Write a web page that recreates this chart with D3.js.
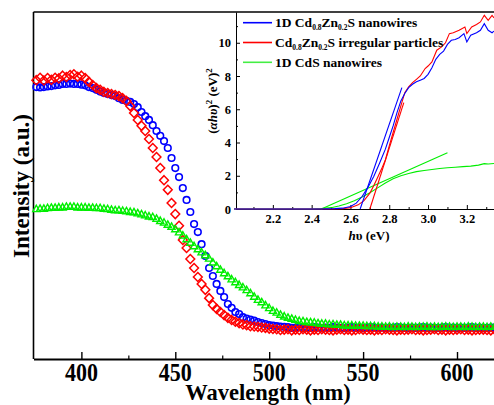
<!DOCTYPE html>
<html><head><meta charset="utf-8">
<script src="https://cdn.jsdelivr.net/npm/d3@7"></script>
<style>
html,body{margin:0;padding:0;background:#fff;}
svg{display:block;}
text{font-family:"Liberation Serif","Times New Roman",serif;font-weight:bold;fill:#000;}
</style></head><body>
<script>
// ---------- main chart data ----------
const wavelengths = d3.range(376, 621, 2); // nm
const blueNW = [78.3,78.2,78.3,78.5,78.6,78.8,78.9,79.2,79.2,79.3,79.2,79.2,79.0,78.8,78.3,78.0,77.5,77.0,76.6,76.3,
 76.0,75.7,75.1,74.6,74.3,74.0,73.4,72.5,71.1,69.9,68.8,67.3,65.6,64.2,62.7,60.7,57.8,54.9,52.3,49.1,
 45.7,42.2,38.7,36.4,32.9,29.5,26.0,23.7,21.4,19.4,17.6,15.6,14.5,13.3,12.7,11.8,11.4,11.1,10.8,10.4,
 10.1,9.8,9.5,9.4,9.2,9.1,9.0,
 8.9,8.7,8.8,8.9,8.6,8.8,8.7,8.9,8.8,8.6,8.8,8.7,8.9,8.8,8.7,8.6,8.8,8.9,8.7,8.8,
 8.6,8.7,8.9,8.8,8.7,8.8,8.6,8.8,8.7,8.9,8.8,8.7,8.6,8.8,8.7,8.8,8.9,8.7,8.8,8.6,
 8.7,8.8,8.9,8.7,8.8,8.6,8.8,8.7,8.8,8.9,8.7,8.8,8.6,8.7,8.8,8.8];
const redParticles = [80.3,81.0,80.2,80.9,80.4,81.0,80.8,81.6,81.2,81.8,82.0,81.3,81.6,80.9,79.8,78.9,78.0,77.5,76.9,76.6,
 76.3,76.0,75.7,75.1,74.3,72.8,70.8,68.8,67.1,65.6,63.3,60.7,58.1,54.9,51.4,48.6,44.8,41.6,38.2,34.1,
 31.8,28.6,26.0,23.4,21.4,19.7,17.3,15.3,14.2,13.3,12.4,11.6,11.0,10.5,10.1,9.7,9.5,9.2,9.1,9.0,
 8.8,8.7,8.5,8.4,
 8.3,8.1,8.2,8.3,8.0,8.2,8.1,8.3,8.2,8.0,8.2,8.1,8.3,8.2,8.1,8.0,8.2,8.3,8.1,8.2,
 8.0,8.1,8.3,8.2,8.1,8.2,8.0,8.2,8.1,8.3,8.2,8.1,8.0,8.2,8.1,8.2,8.3,8.1,8.2,8.0,
 8.1,8.2,8.3,8.1,8.2,8.0,8.2,8.1,8.2,8.3,8.1,8.2,8.0,8.1,8.2,8.2,8.1,8.0,8.2];
const greenCdS = [43.1,43.2,43.2,43.4,43.5,43.5,43.6,43.6,43.8,43.8,43.8,43.6,43.6,43.6,43.5,43.5,43.4,43.4,43.2,43.1,
 42.9,42.8,42.8,42.6,42.5,42.3,42.2,41.9,41.6,41.3,41.0,40.8,40.3,39.7,39.2,38.6,38.0,37.3,36.4,35.5,
 34.4,33.4,32.4,31.5,30.6,29.8,28.8,27.7,26.6,25.6,24.6,23.7,22.8,22.0,21.2,20.5,19.7,18.8,17.8,16.9,
 16.2,15.3,14.5,13.7,13.2,12.6,12.1,11.7,11.4,11.1,10.8,10.7,10.5,10.4,10.3,10.1,10.0,10.0,9.8,9.8,
 9.7,9.7,9.5,9.5,9.5,9.4,9.4,9.4,9.3,9.3,9.3,9.2,9.2,
 9.1,9.2,9.0,9.1,9.1,9.0,9.2,9.1,9.0,9.1,9.1,9.2,9.0,9.1,9.0,9.1,9.2,9.1,9.0,9.1,
 9.1,9.0,9.2,9.1,9.0,9.1,9.1,9.0,9.1,9.1];
const xTicks = [400, 450, 500, 550, 600];
const xMinor = [425, 475, 525, 575];

// ---------- inset (Tauc plot) data ----------
const insetBlue = [[2.00,0],[2.45,0],[2.52,0.02],[2.56,0.05],[2.60,0.15],[2.63,0.35],[2.66,0.75],[2.69,1.3],[2.72,1.95],[2.75,2.75],
 [2.78,3.6],[2.80,4.3],[2.82,5.0],[2.84,5.8],[2.86,6.5],[2.88,6.95],[2.90,7.3],[2.92,7.5],[2.94,7.65],[2.96,7.75],
 [2.98,7.85],[3.00,8.1],[3.02,8.5],[3.04,9.0],[3.06,9.3],[3.08,9.5],[3.10,9.9],[3.12,10.15],[3.14,10.2],[3.16,10.3],
 [3.185,10.55],[3.20,10.05],[3.22,10.45],[3.25,10.6],[3.27,10.75],[3.29,11.15],[3.31,10.75],[3.33,10.6],[3.34,10.7]];
const insetRed = [[2.00,0],[2.50,0],[2.56,0.02],[2.60,0.08],[2.64,0.25],[2.67,0.5],[2.70,0.95],[2.72,1.4],[2.74,1.9],[2.76,2.4],
 [2.78,2.95],[2.80,3.8],[2.82,4.6],[2.84,5.4],[2.86,6.2],[2.88,7.0],[2.90,7.35],[2.92,7.6],[2.94,7.8],[2.96,8.0],
 [2.985,8.45],[3.00,8.6],[3.02,8.85],[3.045,9.55],[3.07,9.75],[3.09,10.0],[3.11,10.55],[3.13,10.6],[3.16,10.75],[3.19,10.95],
 [3.20,10.55],[3.225,10.95],[3.25,11.1],[3.27,11.25],[3.29,11.65],[3.31,11.35],[3.33,11.65],[3.34,11.5]];
const insetGreen = [[2.00,0],[2.40,0],[2.45,0.02],[2.50,0.08],[2.54,0.18],[2.58,0.32],[2.62,0.5],[2.66,0.72],[2.70,0.98],[2.74,1.27],
 [2.78,1.56],[2.82,1.82],[2.86,2.0],[2.90,2.14],[2.94,2.25],[2.98,2.32],[3.02,2.38],[3.06,2.44],[3.10,2.48],[3.14,2.51],
 [3.18,2.55],[3.22,2.58],[3.26,2.64],[3.29,2.73],[3.31,2.71],[3.34,2.74]];
const fitBlue = [[2.65,0],[2.865,7.3]];
const fitRed = [[2.70,0],[2.875,6.4]];
const fitGreen = [[2.45,0],[3.10,3.38]];
const insetXTicks = [2.2, 2.4, 2.6, 2.8, 3.0, 3.2];
const insetXMinor = [2.1, 2.3, 2.5, 2.7, 2.9, 3.1, 3.3];
const insetYTicks = [0, 2, 4, 6, 8, 10];
const insetYMinor = [1, 3, 5, 7, 9, 11];
const legendLabels = ["1D Cd|0.8|Zn|0.2|S nanowires", "Cd|0.8|Zn|0.2|S irregular particles", "1D CdS nanowires"];
const colors = {blue:"#0000ff", red:"#ff0000", green:"#00ee00"};

// ---------- drawing ----------
const W = 494, H = 405;
const FONT = '"Liberation Serif","Times New Roman",serif';
const svg = d3.select("body").append("svg").attr("width", W).attr("height", H);

const x = d3.scaleLinear().domain([374.5, 619.7]).range([33.5, 494]);
const y = d3.scaleLinear().domain([0, 100]).range([358, 12]);

const main = svg.append("g");
// frame: left + top
main.append("line").attr("x1",33.5).attr("x2",33.5).attr("y1",12).attr("y2",359).attr("stroke","#000").attr("stroke-width",1.6);
main.append("line").attr("x1",33.5).attr("x2",494).attr("y1",12).attr("y2",12).attr("stroke","#000").attr("stroke-width",1.6);

// x axis (ticks inward, labels drawn from the same scale)
const gx = main.append("g").attr("transform","translate(0,359)");
gx.call(d3.axisBottom(x).tickValues(xTicks).tickSizeInner(-7).tickSizeOuter(0).tickFormat(""));
gx.select(".domain").attr("stroke-width",1.8);
gx.selectAll(".tick line").attr("stroke-width",1.4);
const gxm = main.append("g").attr("transform","translate(0,359)");
gxm.call(d3.axisBottom(x).tickValues(xMinor).tickSizeInner(-3.5).tickSizeOuter(0).tickFormat(""));
gxm.select(".domain").remove();
gxm.selectAll(".tick line").attr("stroke-width",1.2);
main.append("g").selectAll("text").data(xTicks).join("text")
  .attr("transform", d => `translate(${x(d)},381) scale(1,1.18)`)
  .attr("text-anchor","middle").style("font-size","22px").text(d => d);

main.append("text").attr("x",268).attr("y",399.5).attr("text-anchor","middle").style("font-size","22.5px").text("Wavelength (nm)");
main.append("text").attr("transform","translate(29,186) rotate(-90)").attr("text-anchor","middle").style("font-size","23px").text("Intensity (a.u.)");

// markers
const circlePts = wavelengths.map((w,i)=>[w, blueNW[i]]);
const diamondPts = wavelengths.map((w,i)=>[w, redParticles[i]]);
const triPts = wavelengths.map((w,i)=>[w, greenCdS[i]]);

const mk = main.append("g");
mk.selectAll("circle.b").data(circlePts).join("circle")
  .attr("cx",d=>x(d[0])).attr("cy",d=>y(d[1])).attr("r",3.3)
  .attr("fill","none").attr("stroke",colors.blue).attr("stroke-width",1.6);
mk.selectAll("path.r").data(diamondPts).join("path")
  .attr("transform",d=>`translate(${x(d[0])},${y(d[1])})`)
  .attr("d","M0,-4.5L4.4,0L0,4.5L-4.4,0Z")
  .attr("fill","none").attr("stroke",colors.red).attr("stroke-width",1.5);
mk.selectAll("path.g").data(triPts).join("path")
  .attr("transform",d=>`translate(${x(d[0])},${y(d[1])})`)
  .attr("d","M0,-3.6L3.6,2.8L-3.6,2.8Z")
  .attr("fill","none").attr("stroke",colors.green).attr("stroke-width",1.4);

// ---------- inset ----------
const xi = d3.scaleLinear().domain([2.01, 3.34]).range([236, 494]);
const yi = d3.scaleLinear().domain([0, 11.85]).range([209, 12]);
const ins = svg.append("g");
const line = d3.line().x(d=>xi(d[0])).y(d=>yi(d[1]));

const gxi = ins.append("g").attr("transform","translate(0,209)");
gxi.call(d3.axisBottom(xi).tickValues(insetXTicks).tickSizeInner(-4).tickSizeOuter(0).tickPadding(5).tickFormat(d3.format(".1f")));
gxi.selectAll(".tick text").style("font-size","12.5px").style("font-family",FONT).style("font-weight","bold");
const gxim = ins.append("g").attr("transform","translate(0,209)");
gxim.call(d3.axisBottom(xi).tickValues(insetXMinor).tickSizeInner(-2).tickSizeOuter(0).tickFormat(""));
gxim.select(".domain").remove();

const gyi = ins.append("g").attr("transform","translate(236,0)");
gyi.call(d3.axisLeft(yi).tickValues(insetYTicks).tickSizeInner(-4).tickSizeOuter(0).tickPadding(5));
gyi.selectAll(".tick text").style("font-size","12.5px").style("font-family",FONT).style("font-weight","bold");
const gyim = ins.append("g").attr("transform","translate(236,0)");
gyim.call(d3.axisLeft(yi).tickValues(insetYMinor).tickSizeInner(-2).tickSizeOuter(0).tickFormat(""));
gyim.select(".domain").remove();

// inset labels
const xl = ins.append("text").attr("x",369).attr("y",240).attr("text-anchor","middle").style("font-size","13px");
xl.append("tspan").style("font-style","italic").text("h");
xl.append("tspan").text("υ (eV)");
const yl = ins.append("text").attr("transform","translate(217,101) rotate(-90)").attr("text-anchor","middle").style("font-size","13px");
yl.append("tspan").text("(");
yl.append("tspan").style("font-style","italic").text("αhυ");
yl.append("tspan").text(")");
yl.append("tspan").attr("dy",-5).style("font-size","9px").text("2");
yl.append("tspan").attr("dy",5).text(" (eV)");
yl.append("tspan").attr("dy",-5).style("font-size","9px").text("2");

// inset curves
const cg = ins.append("g").attr("fill","none").attr("stroke-width",1.1);
cg.append("path").datum(insetGreen).attr("d",line).attr("stroke",colors.green);
cg.append("path").datum(fitGreen).attr("d",line).attr("stroke",colors.green);
cg.append("path").datum(insetRed).attr("d",line).attr("stroke",colors.red);
cg.append("path").datum(fitRed).attr("d",line).attr("stroke",colors.red);
cg.append("path").datum(insetBlue).attr("d",line).attr("stroke",colors.blue);
cg.append("path").datum(fitBlue).attr("d",line).attr("stroke",colors.blue);

// legend
const legColors = [colors.blue, colors.red, "#44ee44"];
const leg = ins.append("g");
legendLabels.forEach((lab,i)=>{
  const yy = 22.7 + i*19.8;
  leg.append("line").attr("x1",243).attr("x2",272).attr("y1",yy).attr("y2",yy).attr("stroke",legColors[i]).attr("stroke-width",1.6);
  const t = leg.append("text").attr("x",275).attr("y",yy+4.5).style("font-size","13.5px");
  lab.split("|").forEach((part,k)=>{
    if (k%2===1) t.append("tspan").attr("dy",3).style("font-size","7.5px").text(part);
    else t.append("tspan").attr("dy",k===0?0:-3).text(part);
  });
});
</script>
</body></html>
